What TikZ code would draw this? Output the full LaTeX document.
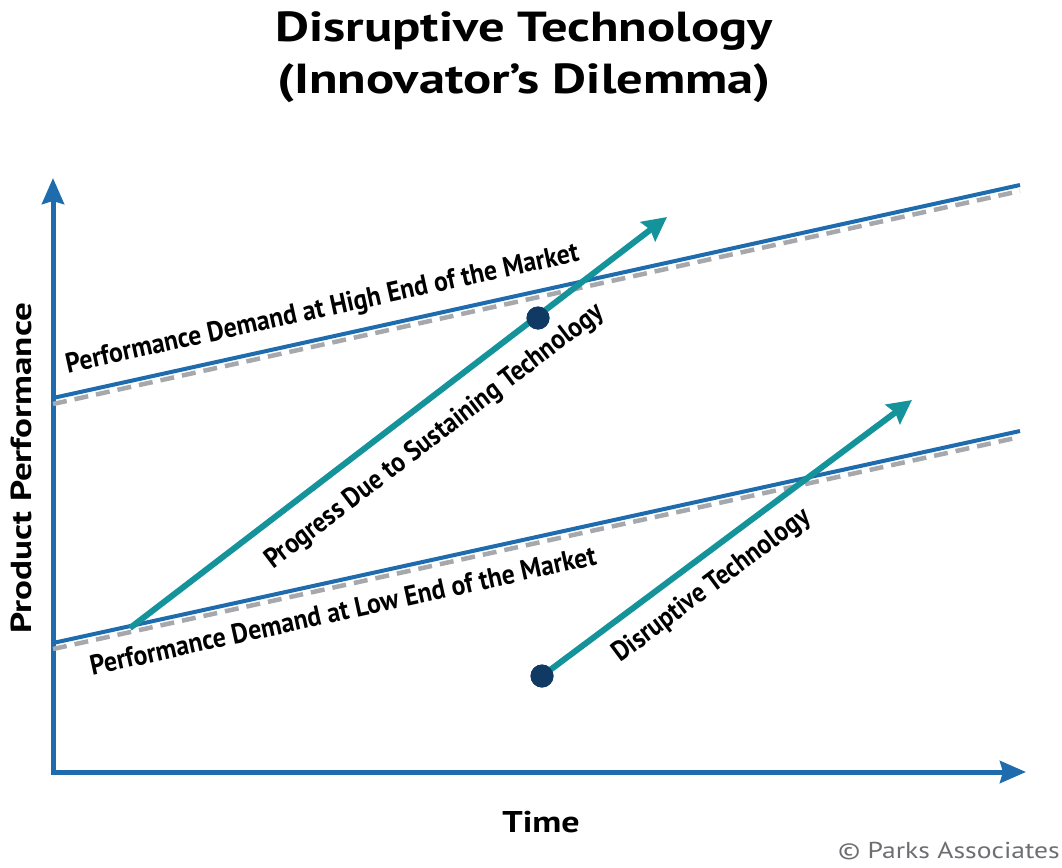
\documentclass[tikz,border=0pt]{standalone}
\usepackage{fontspec}
\setmainfont{PT Sans}
\usetikzlibrary{arrows.meta}
\definecolor{axisblue}{HTML}{1E6BAD}
\definecolor{tealc}{HTML}{14939B}
\definecolor{navy}{HTML}{103A63}
\definecolor{dgray}{HTML}{A6A8AB}
\definecolor{cgray}{HTML}{6D6E71}
\tikzset{
  axis/.style={axisblue, line width=5pt, -{Stealth[length=26pt,width=22pt,inset=3pt]}},
  demand/.style={axisblue, line width=4pt},
  demandshadow/.style={dgray, line width=4.5pt, dash pattern=on 14pt off 8pt},
  progress/.style={tealc, line width=6pt, -{Stealth[length=24pt,width=24pt,inset=3pt]}},
  dot/.style={circle, fill=navy, inner sep=0pt, minimum size=23pt},
  lbl/.style={font=\fontsize{28}{32}\selectfont\bfseries, inner sep=0pt},
  ttl/.style={font=\fontsize{42}{52}\selectfont\bfseries, align=center, inner sep=0pt},
}
\newcommand{\cond}[2][0.9]{\scalebox{#1}[1]{#2}}
\newcommand{\wide}[2]{\scalebox{#1}[1]{#2}}
\begin{document}
\begin{tikzpicture}[x=1pt,y=-1pt]
\useasboundingbox (0,0) rectangle (1062,867);
% title
\node[ttl] (title) at (524,57) {\wide{1.25}{Disruptive Technology}\\\wide{1.25}{(Innovator’s Dilemma)}};
% axes
\coordinate (O) at (53,772);
\coordinate (Ytip) at (53,178);
\coordinate (Xtip) at (1026,772);
\draw[axis] (53,774.5) -- (Ytip);
\draw[axis] (50.5,772) -- (Xtip);
% demand lines
\coordinate (hA) at (53,398);
\coordinate (hB) at (1020,185);
\coordinate (hAs) at (53,404);
\coordinate (hBs) at (1020,191);
\coordinate (lA) at (53,643);
\coordinate (lB) at (1020,431);
\coordinate (lAs) at (53,649);
\coordinate (lBs) at (1020,437);
\draw[demandshadow] (hAs) -- (hBs);
\draw[demand] (hA) -- (hB);
\draw[demandshadow] (lAs) -- (lBs);
\draw[demand] (lA) -- (lB);
% progress arrows
\coordinate (sA) at (130,628);
\coordinate (sB) at (667,217);
\coordinate (dB) at (912,400);
\node[dot] (dotS) at (538,318) {};
\node[dot] (dotD) at (542,676) {};
\draw[progress] (sA) -- (sB);
\draw[progress] (dotD.center) -- (dB);
\node[dot] at (dotS) {};
\node[dot] at (dotD) {};
% labels
\node[lbl, rotate=12.4, anchor=base] (lh) at (324,317) {\cond[0.92]{Performance Demand at High End of the Market}};
\node[lbl, rotate=12.4, anchor=base] (ll) at (345,620) {\cond[0.92]{Performance Demand at Low End of the Market}};
\node[lbl, rotate=37.4] (ls) at (435,437) {\cond{Progress Due to Sustaining Technology}};
\node[lbl, rotate=36.7] (ld) at (712,586) {\cond{Disruptive Technology}};
\node[lbl, rotate=90, font=\fontsize{29}{32}\selectfont\bfseries] (ly) at (21,468) {\wide{1.28}{Product Performance}};
\node[lbl, font=\fontsize{30}{34}\selectfont\bfseries] (lx) at (541,822) {\wide{1.2}{Time}};
\node[anchor=east, inner sep=0pt, text=cgray, font=\fontsize{23}{26}\selectfont] (copy) at (1060,851) {\wide{1.2}{© Parks Associates}};
\end{tikzpicture}
\end{document}
